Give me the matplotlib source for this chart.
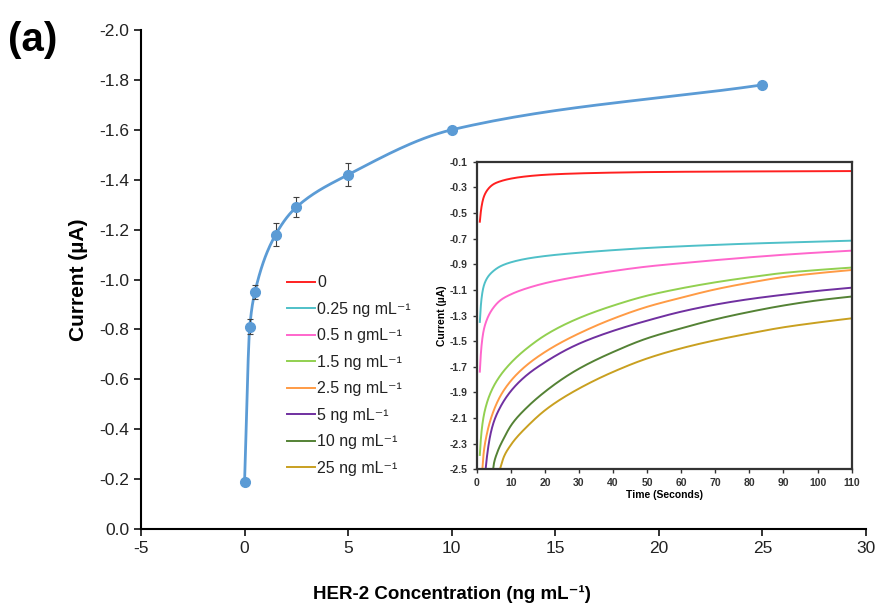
import numpy as np
from matplotlib import pyplot as plt

plt.rcParams['font.family'] = ['Liberation Sans', 'DejaVu Sans']
plt.rcParams['axes.unicode_minus'] = False

# main calibration curve
conc = [0, 0.25, 0.5, 1.5, 2.5, 5, 10, 25]
current = [-0.19, -0.81, -0.95, -1.18, -1.29, -1.42, -1.60, -1.78]
err = [0.0, 0.03, 0.03, 0.045, 0.04, 0.045, 0.01, 0.01]

# inset chronoamperograms (time in s, current in uA)
labels = ["0", "0.25 ng mL\u207b\u00b9", "0.5 n gmL\u207b\u00b9", "1.5 ng mL\u207b\u00b9",
          "2.5 ng mL\u207b\u00b9", "5 ng mL\u207b\u00b9", "10 ng mL\u207b\u00b9", "25 ng mL\u207b\u00b9"]
colors = ["#FF2020", "#4FC0C8", "#FF66CC", "#92D050", "#FF9B45", "#7030A0", "#548235", "#C9A020"]

t_red = [0.9, 1.35, 2, 3, 5, 7, 10, 15, 20, 30, 40, 50, 70, 90, 110]
i_red = [-0.568, -0.46, -0.38, -0.325, -0.274, -0.252, -0.232, -0.213, -0.202, -0.191,
         -0.185, -0.181, -0.177, -0.175, -0.173]
t_cyan = [0.9, 1.35, 2, 3, 5, 7, 10, 15, 20, 30, 40, 50, 60, 70, 80, 90, 100, 110]
i_cyan = [-1.35, -1.18, -1.075, -1.01, -0.95, -0.915, -0.885, -0.855, -0.836, -0.81,
          -0.79, -0.773, -0.76, -0.749, -0.739, -0.731, -0.723, -0.716]
t_pink = [0.9, 1.35, 2, 3, 5, 7, 10, 15, 20, 30, 40, 50, 60, 70, 80, 90, 100, 110]
i_pink = [-1.738, -1.55, -1.42, -1.33, -1.235, -1.18, -1.135, -1.085, -1.048, -0.995,
          -0.953, -0.918, -0.892, -0.868, -0.846, -0.826, -0.809, -0.794]
t_lgreen = [0.9, 1.35, 2, 3, 5, 7, 10, 15, 20, 30, 40, 50, 60, 70, 80, 90, 100, 110]
i_lgreen = [-2.388, -2.22, -2.09, -1.98, -1.85, -1.765, -1.67, -1.55, -1.455, -1.32,
            -1.223, -1.145, -1.088, -1.041, -1.002, -0.968, -0.945, -0.926]
t_orange = [1.65, 2, 3, 5, 7, 10, 15, 20, 30, 40, 50, 60, 70, 80, 90, 100, 110]
i_orange = [-2.5, -2.38, -2.22, -2.04, -1.925, -1.81, -1.68, -1.585, -1.44, -1.325,
            -1.232, -1.161, -1.096, -1.044, -1.0, -0.97, -0.945]
t_purple = [2.6, 3, 4, 5, 7, 10, 15, 20, 30, 40, 50, 60, 70, 80, 90, 100, 110]
i_purple = [-2.5, -2.40, -2.23, -2.13, -2.01, -1.89, -1.758, -1.665, -1.52, -1.42,
            -1.34, -1.27, -1.215, -1.172, -1.138, -1.108, -1.083]
t_dgreen = [4.8, 5, 6, 8, 10, 15, 20, 30, 40, 50, 60, 70, 80, 90, 100, 110]
i_dgreen = [-2.5, -2.46, -2.37, -2.255, -2.16, -2.01, -1.895, -1.715, -1.585, -1.478,
            -1.400, -1.330, -1.272, -1.222, -1.182, -1.152]
t_gold = [6.8, 8, 10, 15, 20, 30, 40, 50, 60, 70, 80, 90, 100, 110]
i_gold = [-2.5, -2.40, -2.31, -2.16, -2.04, -1.87, -1.74, -1.635, -1.556, -1.493,
          -1.44, -1.392, -1.355, -1.322]

curves = [(t_red, i_red), (t_cyan, i_cyan), (t_pink, i_pink), (t_lgreen, i_lgreen),
          (t_orange, i_orange), (t_purple, i_purple), (t_dgreen, i_dgreen), (t_gold, i_gold)]


def smooth(x, y, n=30):
    # monotone cubic (fritsch-carlson) through the points, only for drawing
    x = np.asarray(x, float)
    y = np.asarray(y, float)
    h = np.diff(x)
    d = np.diff(y) / h
    m = np.zeros_like(y)
    m[0], m[-1] = d[0], d[-1]
    for k in range(1, len(x) - 1):
        if d[k - 1] * d[k] > 0:
            w1, w2 = 2 * h[k] + h[k - 1], h[k] + 2 * h[k - 1]
            m[k] = (w1 + w2) / (w1 / d[k - 1] + w2 / d[k])
    xs, ys = [], []
    s = np.linspace(0, 1, n, endpoint=False)
    for k in range(len(x) - 1):
        h00 = 2 * s ** 3 - 3 * s ** 2 + 1
        h10 = s ** 3 - 2 * s ** 2 + s
        h01 = -2 * s ** 3 + 3 * s ** 2
        h11 = s ** 3 - s ** 2
        xs.extend(x[k] + s * h[k])
        ys.extend(h00 * y[k] + h10 * h[k] * m[k] + h01 * y[k + 1] + h11 * h[k] * m[k + 1])
    xs.append(x[-1])
    ys.append(y[-1])
    return np.array(xs), np.array(ys)


fig = plt.figure(figsize=(8.78, 6.05), dpi=100)
ax = fig.add_axes([0.1606, 0.1256, 0.8257, 0.8248])

blue = "#5B9BD5"
sx, sy = smooth(conc, current)
ax.plot(sx, sy, color=blue, lw=2)
ax.errorbar(conc, current, yerr=err, fmt="o", color=blue, ms=7, ecolor="#404040",
            elinewidth=0.8, capsize=2.5, capthick=0.8)
ax.set_xlim(-5, 30)
ax.set_ylim(0, -2.0)
ax.set_xticks(np.arange(-5, 31, 5))
yt = np.round(np.arange(0, -2.01, -0.2), 1)
ax.set_yticks(yt)
ax.set_yticklabels(["%.1f" % v if v != 0 else "0.0" for v in yt])
for s in ["top", "right"]:
    ax.spines[s].set_visible(False)
for s in ["left", "bottom"]:
    ax.spines[s].set_linewidth(1.5)
ax.tick_params(direction="out", length=5, width=1.3, labelsize=12.5, colors="#222222")
ax.set_ylabel("Current (\u00b5A)", fontsize=15, fontweight="bold", labelpad=8)
fig.text(452 / 878, 1 - 594 / 605, "HER-2 Concentration (ng mL\u207b\u00b9)",
         fontsize=13.5, fontweight="bold", ha="center", va="center")
fig.text(8 / 878, 1 - 40 / 605, "(a)", fontsize=29, fontweight="bold", va="center")

# inset
ins = fig.add_axes([0.543, 0.2243, 0.427, 0.5084])
handles = []
for (t, i), c, lab in zip(curves, colors, labels):
    # smooth in log-time so the steep start stays round
    lx, ty = smooth(np.log(t), i)
    h, = ins.plot(np.exp(lx), ty, color=c, lw=1.4, label=lab)
    handles.append(h)
ins.set_xlim(0, 110)
ins.set_ylim(-2.5, -0.1)
ins.set_xticks(np.arange(0, 111, 10))
it = np.round(np.arange(-2.5, -0.09, 0.2), 1)
ins.set_yticks(it)
ins.set_yticklabels(["%.1f" % v for v in it])
for s in ins.spines.values():
    s.set_linewidth(1.6)
    s.set_color("#333333")
ins.tick_params(direction="out", length=3, width=1, labelsize=7.5, colors="#333333")
for lab in ins.get_xticklabels() + ins.get_yticklabels():
    lab.set_fontweight("bold")
ins.set_xlabel("Time (Seconds)", fontsize=7.5, fontweight="bold", labelpad=1)
ins.set_ylabel("Current (\u00b5A)", fontsize=7.5, fontweight="bold", labelpad=2)

fig.legend(handles=handles, loc="upper left", bbox_to_anchor=(273 / 878, 1 - 261 / 605),
           frameon=False, fontsize=11.5, handlelength=1.7, handletextpad=0.15,
           labelspacing=0.72, labelcolor="#222222")

fig.savefig("out.png", dpi=100)
